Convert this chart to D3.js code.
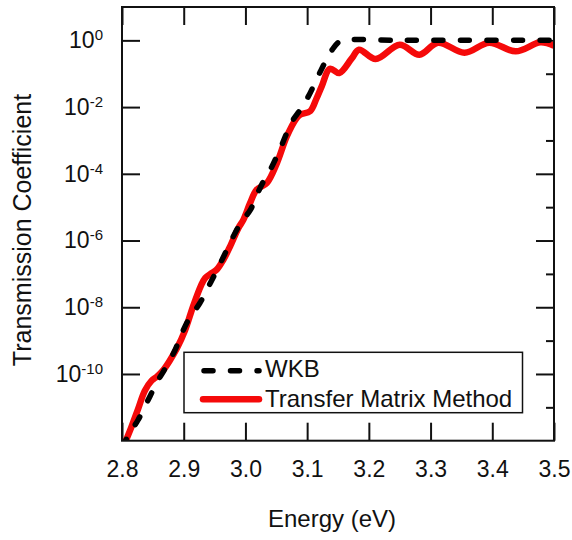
<!DOCTYPE html>
<html>
<head>
<meta charset="utf-8">
<script src="https://cdn.jsdelivr.net/npm/d3@7"></script>
<style>
  body { margin: 0; background: #fff; }
  text { font-family: "Liberation Sans", Arial, sans-serif; fill: #111; }
</style>
</head>
<body>
<svg id="chart" width="572" height="540"></svg>
<script>
// energy (eV) and log10 of the transmission coefficient
const wkbEnergy = [2.800, 2.810, 2.826, 2.845, 2.858, 2.867, 2.886, 2.897, 2.910, 2.926, 2.943, 2.962, 2.983, 2.995,
    3.008, 3.021, 3.030, 3.043, 3.059, 3.075, 3.090, 3.102, 3.121, 3.135, 3.1425, 3.150, 3.157, 3.250, 3.350, 3.450, 3.500];
const wkbLog = [-12.2, -11.85, -11.38, -10.68, -10.2, -9.93, -9.28, -8.78, -8.3, -7.88, -7.28, -6.58, -5.78, -5.4,
    -5.08, -4.53, -4.2, -3.78, -3.13, -2.45, -2.05, -1.68, -0.95, -0.45, -0.23, -0.07, 0, 0, 0, 0, 0];

const tmmEnergy = [2.804, 2.815, 2.826, 2.837, 2.848, 2.857, 2.867, 2.878, 2.889, 2.902, 2.915, 2.928, 2.935, 2.945,
    2.953, 2.965, 2.975, 2.9885, 2.9966, 3.0075, 3.018, 3.0345, 3.051, 3.067, 3.083, 3.0885, 3.105, 3.115, 3.1236,
    3.137, 3.152, 3.172, 3.184, 3.211, 3.25, 3.282, 3.312, 3.355, 3.395, 3.438, 3.478, 3.5];
const tmmLog = [-12.1, -11.6, -11.05, -10.5, -10.2, -10.07, -9.88, -9.58, -9.23, -8.7, -7.98, -7.35, -7.12, -6.98,
    -6.88, -6.55, -6.18, -5.63, -5.38, -4.88, -4.48, -4.28, -3.68, -2.88, -2.33, -2.23, -2.12, -1.75, -1.38,
    -0.85, -0.98, -0.55, -0.28, -0.56, -0.13, -0.43, -0.07, -0.37, -0.07, -0.33, -0.06, -0.16];

const energyTicks = [2.8, 2.9, 3.0, 3.1, 3.2, 3.3, 3.4, 3.5];
const majorExponents = [0, -2, -4, -6, -8, -10];
const minorExponents = [-1, -3, -5, -7, -9, -11];

const seriesNames = ["WKB", "Transfer Matrix Method"];

document.addEventListener("DOMContentLoaded", function() {
    const svg = d3.select("#chart");
    const left = 122, right = 554, top = 7, bottom = 440.7;

    const x = d3.scaleLinear().domain([2.8, 3.5]).range([left, right]);
    const y = d3.scaleLog().domain([1e-12, 10]).range([bottom, top]);

    const majorVals = majorExponents.map(e => Math.pow(10, e));
    const minorVals = minorExponents.map(e => Math.pow(10, e));

    svg.append("clipPath").attr("id", "plotClip")
        .append("rect")
        .attr("x", left).attr("y", top)
        .attr("width", right - left).attr("height", bottom - top);

    // bottom axis with labels, ticks pointing in
    const xAxis = svg.append("g")
        .attr("transform", `translate(0,${bottom})`)
        .call(d3.axisBottom(x).tickValues(energyTicks).tickSizeInner(-18).tickSizeOuter(0).tickPadding(20)
            .tickFormat(d3.format(".1f")));
    xAxis.selectAll("text").style("font-size", "23px").attr("fill", "#111");

    svg.append("g")
        .attr("transform", `translate(0,${top})`)
        .call(d3.axisTop(x).tickValues(energyTicks).tickSizeInner(-18).tickSizeOuter(0).tickFormat(""));

    // left axis: even decades with 10^n labels
    const yAxis = svg.append("g")
        .attr("transform", `translate(${left},0)`)
        .call(d3.axisLeft(y).tickValues(majorVals).tickSizeInner(-18).tickSizeOuter(0).tickPadding(19)
            .tickFormat(""));
    yAxis.selectAll(".tick text")
        .style("font-size", "23px")
        .attr("fill", "#111")
        .each(function(d) {
            const t = d3.select(this);
            t.append("tspan").text("10");
            t.append("tspan").attr("dy", -8).style("font-size", "15px").text(Math.round(Math.log10(d)));
        });

    svg.append("g")
        .attr("transform", `translate(${right},0)`)
        .call(d3.axisRight(y).tickValues(majorVals).tickSizeInner(-18).tickSizeOuter(0).tickFormat(""));
    svg.append("g")
        .attr("transform", `translate(${right},0)`)
        .call(d3.axisRight(y).tickValues(minorVals).tickSizeInner(-8).tickSizeOuter(0).tickFormat(""));

    svg.selectAll(".domain").remove();
    svg.selectAll(".tick line").attr("stroke", "#111").attr("stroke-width", 2);

    const line = d3.line()
        .x(d => x(d[0]))
        .y(d => y(Math.pow(10, d[1])))
        .curve(d3.curveCatmullRom.alpha(0.5));

    const plot = svg.append("g").attr("clip-path", "url(#plotClip)");

    plot.append("path")
        .datum(d3.zip(tmmEnergy, tmmLog))
        .attr("d", line)
        .attr("fill", "none")
        .attr("stroke", "#f50a0a")
        .attr("stroke-width", 6.5)
        .attr("stroke-linejoin", "round");

    plot.append("path")
        .datum(d3.zip(wkbEnergy, wkbLog))
        .attr("d", line)
        .attr("fill", "none")
        .attr("stroke", "#000")
        .attr("stroke-width", 5.5)
        .attr("stroke-linecap", "round")
        .attr("stroke-dasharray", "9,17.5");

    // frame
    svg.append("rect")
        .attr("x", left).attr("y", top)
        .attr("width", right - left).attr("height", bottom - top)
        .attr("fill", "none").attr("stroke", "#111").attr("stroke-width", 2);

    // legend
    const lg = svg.append("g");
    lg.append("rect")
        .attr("x", 184).attr("y", 352.3).attr("width", 338.5).attr("height", 60.4)
        .attr("fill", "#fff").attr("stroke", "#111").attr("stroke-width", 1.5);
    lg.append("line")
        .attr("x1", 204).attr("x2", 259).attr("y1", 370.7).attr("y2", 370.7)
        .attr("stroke", "#000").attr("stroke-width", 5.5)
        .attr("stroke-linecap", "round").attr("stroke-dasharray", "9,17.5");
    lg.append("line")
        .attr("x1", 203).attr("x2", 259).attr("y1", 399.3).attr("y2", 399.3)
        .attr("stroke", "#f50a0a").attr("stroke-width", 6.5).attr("stroke-linecap", "round");
    lg.selectAll(".lbl").data(seriesNames).enter().append("text")
        .attr("class", "lbl")
        .attr("x", 265)
        .attr("y", (d, i) => 377 + i * 29.5)
        .style("font-size", "24px")
        .text(d => d);

    // axis titles
    svg.append("text")
        .attr("x", 332).attr("y", 527)
        .attr("text-anchor", "middle")
        .style("font-size", "24px")
        .text("Energy (eV)");

    svg.append("text")
        .attr("transform", "translate(31,230) rotate(-90)")
        .attr("text-anchor", "middle")
        .style("font-size", "25px")
        .text("Transmission Coefficient");
});
</script>
</body>
</html>
